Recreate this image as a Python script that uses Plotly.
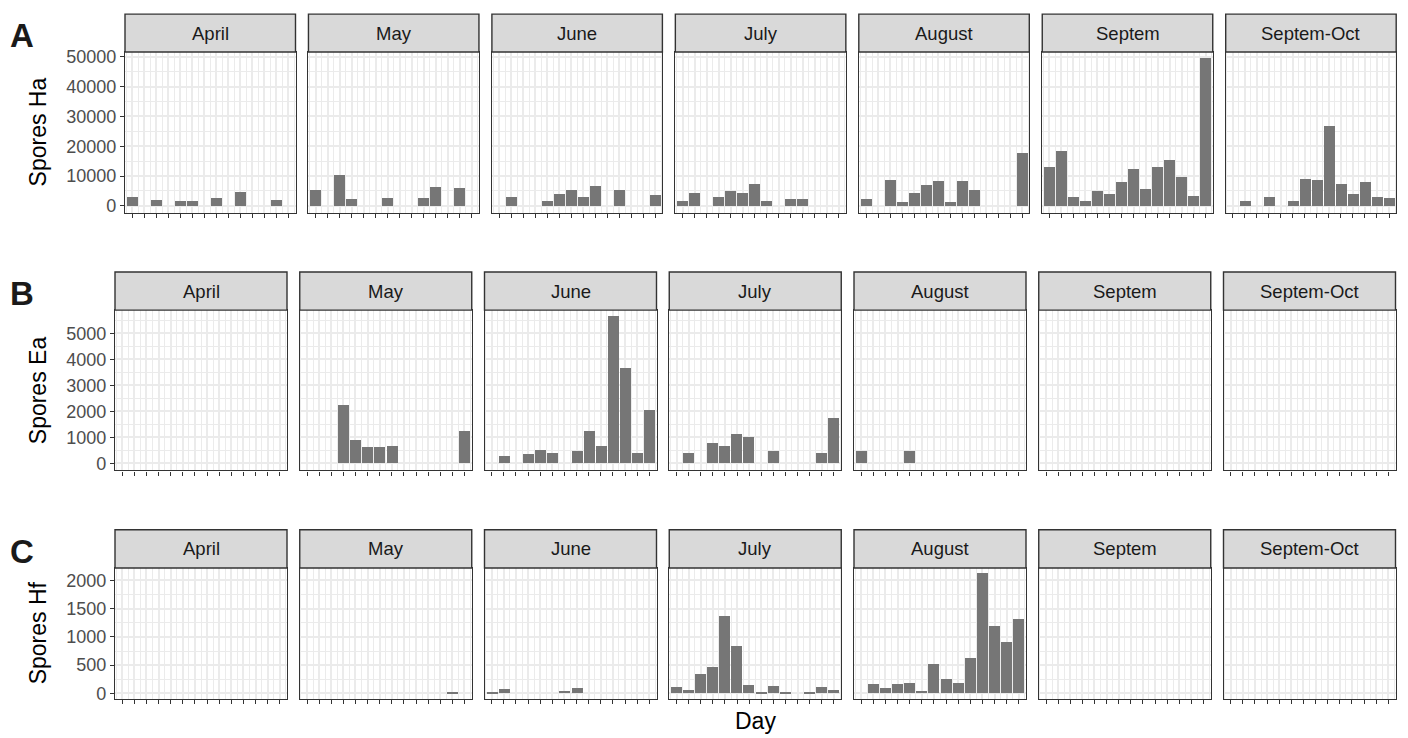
import plotly.graph_objects as go

# ---------------------------------------------------------------- data
months = ["April", "May", "June", "July", "August", "Septem", "Septem-Oct"]
days = [1, 2, 3, 4, 5, 6, 7, 8, 9, 10, 11, 12, 13, 14]

# Spores Ha (panel A)
ha_april = [3000, 0, 2000, 0, 1650, 1650, 0, 2600, 0, 4600, 0, 0, 2000, 0]
ha_may = [5300, 0, 10200, 2300, 0, 0, 2650, 0, 0, 2650, 6300, 0, 5900, 0]
ha_june = [0, 3000, 0, 0, 1650, 4000, 5300, 3000, 6600, 0, 5300, 0, 0, 3600]
ha_july = [1650, 4300, 0, 3000, 5000, 4300, 7300, 1650, 0, 2300, 2300, 0, 0, 0]
ha_august = [2300, 0, 8600, 1300, 4300, 6900, 8250, 1300, 8250, 5300, 0, 0, 0, 17800]
ha_septem = [12900, 18500, 3000, 1650, 4950, 4000, 7900, 12200, 5600, 12900, 15500, 9600, 3300, 49500]
ha_septem_oct = [0, 1650, 0, 3000, 0, 1650, 8900, 8600, 26700, 7300, 4000, 7900, 3000, 2650]

# Spores Ea (panel B)
ea_april = [0, 0, 0, 0, 0, 0, 0, 0, 0, 0, 0, 0, 0, 0]
ea_may = [0, 0, 0, 2250, 900, 630, 630, 670, 0, 0, 0, 0, 0, 1250]
ea_june = [0, 265, 0, 340, 530, 415, 0, 455, 1250, 680, 5650, 3670, 415, 2040]
ea_july = [0, 380, 0, 795, 680, 1135, 1020, 0, 455, 0, 0, 0, 415, 1740]
ea_august = [455, 0, 0, 0, 490, 0, 0, 0, 0, 0, 0, 0, 0, 0]
ea_septem = [0, 0, 0, 0, 0, 0, 0, 0, 0, 0, 0, 0, 0, 0]
ea_septem_oct = [0, 0, 0, 0, 0, 0, 0, 0, 0, 0, 0, 0, 0, 0]

# Spores Hf (panel C)
hf_april = [0, 0, 0, 0, 0, 0, 0, 0, 0, 0, 0, 0, 0, 0]
hf_may = [0, 0, 0, 0, 0, 0, 0, 0, 0, 0, 0, 0, 20, 0]
hf_june = [25, 75, 0, 0, 0, 0, 40, 95, 0, 0, 0, 0, 0, 0]
hf_july = [110, 58, 340, 460, 1365, 840, 145, 25, 130, 25, 0, 25, 110, 60]
hf_august = [0, 160, 90, 160, 190, 50, 520, 260, 190, 630, 2125, 1185, 905, 1325]
hf_septem = [0, 0, 0, 0, 0, 0, 0, 0, 0, 0, 0, 0, 0, 0]
hf_septem_oct = [0, 0, 0, 0, 0, 0, 0, 0, 0, 0, 0, 0, 0, 0]

ha_ticks = [0, 10000, 20000, 30000, 40000, 50000]
ea_ticks = [0, 1000, 2000, 3000, 4000, 5000]
hf_ticks = [0, 500, 1000, 1500, 2000]

rows = [
    dict(tag="A", title="Spores Ha", ticks=ha_ticks, step=10000, yrange=[-2350, 51600],
         series=[ha_april, ha_may, ha_june, ha_july, ha_august, ha_septem, ha_septem_oct],
         left=125.0, pitch=183.45, width=170.5, strip_top=9.3, top=47.7, bottom=210.7),
    dict(tag="B", title="Spores Ea", ticks=ea_ticks, step=1000, yrange=[-265, 5890],
         series=[ea_april, ea_may, ea_june, ea_july, ea_august, ea_septem, ea_septem_oct],
         left=115.0, pitch=184.75, width=172.0, strip_top=270.7, top=309.3, bottom=471.7),
    dict(tag="C", title="Spores Hf", ticks=hf_ticks, step=500, yrange=[-95, 2220],
         series=[hf_april, hf_may, hf_june, hf_july, hf_august, hf_septem, hf_septem_oct],
         left=115.0, pitch=184.75, width=172.0, strip_top=532.0, top=570.7, bottom=703.3),
]

# ---------------------------------------------------------------- styling
W, H = 1408, 738
FONT = "Liberation Sans, Arial, Helvetica, sans-serif"
BAR = "#767676"
GRID = "#EBEBEB"
FRAME = "#333333"
STRIP = "#D9D9D9"


def px(x):
    return x / W


def py(y):
    return 1 - y / H


fig = go.Figure()
layout = dict(
    width=W, height=H, margin=dict(l=0, r=0, t=0, b=0),
    paper_bgcolor="white", plot_bgcolor="white", showlegend=False,
    font=dict(family=FONT, color="#1A1A1A"), bargap=0,
)
shapes, annotations = [], []

x_minor = [d - 0.5 for d in days] + [days[-1] + 0.5]

for r, row in enumerate(rows):
    ticks = row["ticks"]
    y_minor = [t + row["step"] / 2 for t in ticks]
    for c, month in enumerate(months):
        k = r * 7 + c + 1
        sfx = "" if k == 1 else str(k)
        x0 = row["left"] + c * row["pitch"]
        x1 = x0 + row["width"]

        fig.add_trace(go.Bar(
            x=days, y=row["series"][c], width=0.9, marker=dict(color=BAR, line=dict(width=0)),
            xaxis="x" + sfx, yaxis="y" + sfx, hoverinfo="x+y",
        ))

        layout["xaxis" + sfx] = dict(
            domain=[px(x0), px(x1)], anchor="y" + sfx, range=[0.4, 14.6],
            tickmode="array", tickvals=days, showticklabels=False,
            ticks="outside", ticklen=4, tickwidth=1.4, tickcolor=FRAME,
            showgrid=True, gridcolor=GRID, gridwidth=1.6,
            minor=dict(tickmode="array", tickvals=x_minor, showgrid=True,
                       gridcolor=GRID, gridwidth=0.9, ticks=""),
            showline=True, linecolor=FRAME, linewidth=1.4, mirror=True,
            zeroline=False, fixedrange=True,
        )
        first = c == 0
        layout["yaxis" + sfx] = dict(
            domain=[py(row["bottom"]), py(row["top"])], anchor="x" + sfx,
            range=row["yrange"], tickmode="array", tickvals=ticks,
            ticktext=[str(t) for t in ticks], showticklabels=first,
            ticks="outside" if first else "", ticklen=4, tickwidth=1.4, tickcolor=FRAME,
            tickfont=dict(family=FONT, size=18, color="#4D4D4D"),
            showgrid=True, gridcolor=GRID, gridwidth=1.6,
            minor=dict(tickmode="array", tickvals=y_minor, showgrid=True,
                       gridcolor=GRID, gridwidth=0.9, ticks=""),
            showline=True, linecolor=FRAME, linewidth=1.4, mirror=True,
            zeroline=False, fixedrange=True,
        )

        # facet strip
        shapes.append(dict(
            type="rect", xref="paper", yref="paper",
            x0=px(x0), x1=px(x1), y0=py(row["top"]), y1=py(row["strip_top"]),
            fillcolor=STRIP, line=dict(color=FRAME, width=1.4), layer="above",
        ))
        annotations.append(dict(
            text=month, xref="paper", yref="paper", showarrow=False,
            x=px((x0 + x1) / 2), y=py((row["top"] + row["strip_top"]) / 2),
            xanchor="center", yanchor="middle",
            font=dict(family=FONT, size=18.5, color="#1A1A1A"),
        ))

    # row tag and y-axis title
    annotations.append(dict(
        text="<b>%s</b>" % row["tag"], xref="paper", yref="paper", showarrow=False,
        x=px(22), y=py(row["strip_top"] + 22), xanchor="center", yanchor="middle",
        font=dict(family=FONT, size=33, color="#1A1A1A"),
    ))
    annotations.append(dict(
        text=row["title"], xref="paper", yref="paper", showarrow=False, textangle=-90,
        x=px(38), y=py((row["top"] + row["bottom"]) / 2), xanchor="center", yanchor="middle",
        font=dict(family=FONT, size=23, color="#000000"),
    ))

annotations.append(dict(
    text="Day", xref="paper", yref="paper", showarrow=False,
    x=px(755.5), y=py(726), xanchor="center", yanchor="middle",
    font=dict(family=FONT, size=23, color="#000000"),
))

layout["shapes"] = shapes
layout["annotations"] = annotations
fig.update_layout(**layout)
fig.write_html("out.html")
